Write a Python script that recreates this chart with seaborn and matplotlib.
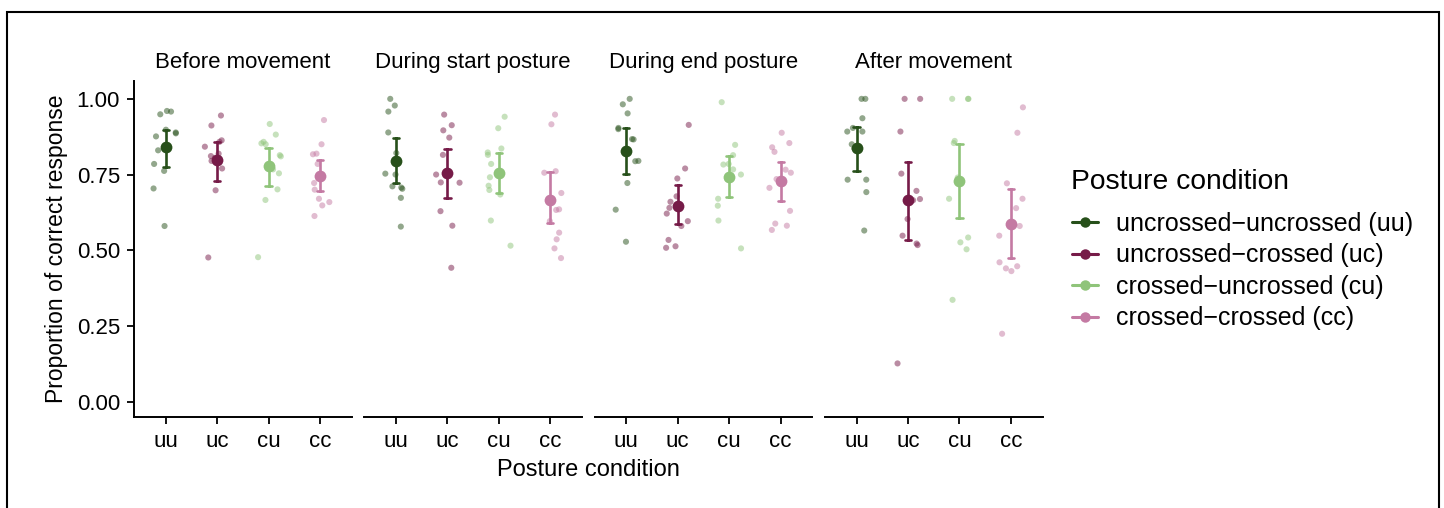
import numpy as np
import pandas as pd
import seaborn as sns
import matplotlib.pyplot as plt
from matplotlib.lines import Line2D
from matplotlib.patches import Rectangle

sns.set_theme(style="ticks")
plt.rcParams["font.family"] = ["Liberation Sans", "DejaVu Sans"]
plt.rcParams["text.color"] = "black"
plt.rcParams["axes.labelcolor"] = "black"
plt.rcParams["xtick.color"] = "black"
plt.rcParams["ytick.color"] = "black"

# Movement phases (facets) and posture conditions
phases = ["Before movement", "During start posture", "During end posture", "After movement"]
conditions = ["uu", "uc", "cu", "cc"]
condition_labels = [
    "uncrossed\u2212uncrossed (uu)",
    "uncrossed\u2212crossed (uc)",
    "crossed\u2212uncrossed (cu)",
    "crossed\u2212crossed (cc)",
]
colors = ["#27501a", "#761b48", "#8fc47a", "#c47aa3"]

# Proportion of correct responses per participant
before_uu = [0.960, 0.958, 0.949, 0.898, 0.889, 0.886, 0.876, 0.830, 0.785, 0.762, 0.704, 0.580]
before_uc = [0.945, 0.912, 0.863, 0.858, 0.842, 0.819, 0.811, 0.805, 0.795, 0.770, 0.698, 0.476]
before_cu = [0.917, 0.882, 0.858, 0.853, 0.850, 0.814, 0.810, 0.767, 0.754, 0.701, 0.666, 0.477]
before_cc = [0.930, 0.850, 0.819, 0.817, 0.785, 0.739, 0.722, 0.700, 0.670, 0.659, 0.648, 0.613]

start_uu = [1.000, 0.978, 0.958, 0.889, 0.821, 0.753, 0.750, 0.711, 0.707, 0.703, 0.673, 0.578]
start_uc = [0.948, 0.913, 0.896, 0.872, 0.815, 0.755, 0.750, 0.724, 0.723, 0.629, 0.581, 0.442]
start_cu = [0.941, 0.903, 0.836, 0.823, 0.815, 0.785, 0.741, 0.713, 0.699, 0.684, 0.598, 0.515]
start_cc = [0.948, 0.916, 0.761, 0.756, 0.689, 0.635, 0.633, 0.596, 0.558, 0.536, 0.506, 0.474]

end_uu = [1.000, 0.982, 0.952, 0.904, 0.900, 0.867, 0.866, 0.795, 0.794, 0.722, 0.634, 0.528]
end_uc = [0.914, 0.770, 0.737, 0.678, 0.660, 0.640, 0.621, 0.596, 0.580, 0.534, 0.513, 0.508]
end_cu = [0.989, 0.848, 0.814, 0.785, 0.783, 0.767, 0.750, 0.735, 0.670, 0.647, 0.598, 0.506]
end_cc = [0.888, 0.854, 0.840, 0.825, 0.766, 0.756, 0.735, 0.706, 0.630, 0.588, 0.581, 0.567]

after_uu = [1.000, 1.000, 0.936, 0.904, 0.892, 0.892, 0.850, 0.836, 0.733, 0.733, 0.692, 0.565]
after_uc = [1.000, 1.000, 0.892, 0.753, 0.696, 0.669, 0.665, 0.603, 0.548, 0.522, 0.517, 0.126]
after_cu = [1.000, 1.000, 1.000, 0.861, 0.854, 0.740, 0.728, 0.670, 0.542, 0.526, 0.503, 0.336]
after_cc = [0.972, 0.888, 0.721, 0.670, 0.639, 0.580, 0.548, 0.460, 0.447, 0.440, 0.431, 0.224]

by_phase = {
    phases[0]: [before_uu, before_uc, before_cu, before_cc],
    phases[1]: [start_uu, start_uc, start_cu, start_cc],
    phases[2]: [end_uu, end_uc, end_cu, end_cc],
    phases[3]: [after_uu, after_uc, after_cu, after_cc],
}

rows = []
for phase, groups in by_phase.items():
    for cond, vals in zip(conditions, groups):
        for v in vals:
            rows.append({"phase": phase, "posture": cond, "correct": v})
df = pd.DataFrame(rows)

palette = dict(zip(conditions, colors))

W, H = 1444, 508
fig = plt.figure(figsize=(W / 100, H / 100), dpi=100)

# Panel geometry in pixels
left0, panel_w, gap = 134, 217.7, 12.6
top_px, bottom_px = 80.7, 416.7

np.random.seed(3)
axes = []
for i, phase in enumerate(phases):
    x0 = left0 + i * (panel_w + gap)
    ax = fig.add_axes([x0 / W, 1 - bottom_px / H, panel_w / W, (bottom_px - top_px) / H])
    sub = df[df["phase"] == phase]
    sns.stripplot(data=sub, x="posture", y="correct", hue="posture", order=conditions,
                  hue_order=conditions, palette=palette, jitter=0.25, size=4.4,
                  alpha=0.5, linewidth=0, legend=False, ax=ax, zorder=1)
    sns.pointplot(data=sub, x="posture", y="correct", hue="posture", order=conditions,
                  hue_order=conditions, palette=palette, errorbar=("ci", 95), seed=1,
                  n_boot=2000, capsize=0.12, markers="o", linestyle="none",
                  markersize=8.5, markeredgewidth=0, err_kws={"linewidth": 1.9},
                  legend=False, ax=ax, zorder=3)
    ax.set_xlim(-0.615, 3.615)
    ax.set_ylim(-0.05, 1.06)
    ax.set_xlabel("")
    ax.set_ylabel("")
    ax.set_title(phase, fontsize=16, pad=9, color="black")
    sns.despine(ax=ax)
    for s in ["left", "bottom"]:
        ax.spines[s].set_linewidth(1.4)
        ax.spines[s].set_color("black")
    ax.tick_params(axis="x", length=5, width=1.3, pad=5, labelsize=16, colors="black")
    ax.set_yticks([0, 0.25, 0.5, 0.75, 1.0])
    ax.set_yticklabels(["0.00", "0.25", "0.50", "0.75", "1.00"])
    ax.tick_params(axis="y", length=5, width=1.3, pad=5, labelsize=16, colors="black")
    if i > 0:
        ax.spines["left"].set_visible(False)
        ax.tick_params(axis="y", left=False, labelleft=False)
    axes.append(ax)

fig.text(588.5 / W, 1 - 470 / H, "Posture condition", ha="center", va="center",
         fontsize=17, color="black")
fig.text(57 / W, 1 - 248.7 / H, "Proportion of correct response", ha="center",
         va="center", rotation=90, fontsize=16.5, color="black")

# Legend: title placed as its own text, entries below it
fig.text(1071 / W, 1 - 182 / H, "Posture condition", ha="left", va="center",
         fontsize=20.3, color="black")
handles = [Line2D([0], [0], color=c, marker="o", markersize=7.5, markeredgewidth=0,
                  linewidth=2.2) for c in colors]
fig.legend(handles, condition_labels, loc="upper left",
           bbox_to_anchor=(1072 / W, 1 - 212 / H), frameon=False, fontsize=18,
           borderpad=0, borderaxespad=0, handlelength=1.05, handletextpad=0.72,
           labelspacing=0.3)

# Outer frame
fig.patches.append(Rectangle((7 / W, -0.1), (1439 - 7) / W, 1.1 - 12 / H,
                             transform=fig.transFigure, fill=False,
                             edgecolor="black", linewidth=1.5))

fig.savefig("out.png", dpi=100)
